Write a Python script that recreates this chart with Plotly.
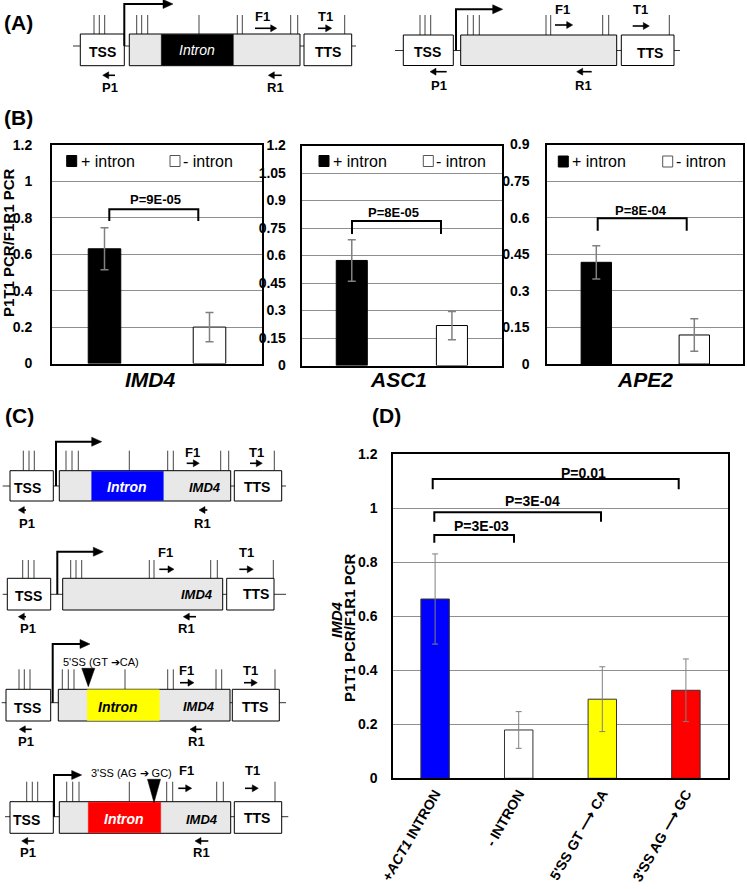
import plotly.graph_objects as go

W, H = 747, 889
FONT = "Liberation Sans, Arial, sans-serif"

# ---------------- data ----------------
b_categories = ["+ intron", "- intron"]
imd4_vals = [0.63, 0.20]
imd4_err = [0.115, 0.08]
asc1_vals = [0.573, 0.218]
asc1_err = [0.113, 0.077]
ape2_vals = [0.417, 0.119]
ape2_err = [0.068, 0.067]
b_colors = ["black", "white"]

imd4_ticks = [0, 0.2, 0.4, 0.6, 0.8, 1.0, 1.2]
imd4_ticktext = ["0", "0.2", "0.4", "0.6", "0.8", "1", "1.2"]
asc1_ticks = [0, 0.15, 0.3, 0.45, 0.6, 0.75, 0.9, 1.05, 1.2]
asc1_ticktext = ["0", "0.15", "0.3", "0.45", "0.6", "0.75", "0.9", "1.05", "1.2"]
ape2_ticks = [0, 0.15, 0.3, 0.45, 0.6, 0.75, 0.9]
ape2_ticktext = ["0", "0.15", "0.3", "0.45", "0.6", "0.75", "0.9"]

d_categories = ["+ACT1 INTRON", "- INTRON", "5'SS GT-CA", "3'SS AG-GC"]
d_ticktext = ["+<i>ACT1</i> INTRON", "- INTRON", "5'SS GT \u27f6 CA", "3'SS AG \u27f6 GC"]
d_vals = [0.664, 0.179, 0.293, 0.326]
d_err = [0.167, 0.068, 0.12, 0.116]
d_colors = ["#0000ff", "#ffffff", "#ffff00", "#ff0000"]
d_ticks = [0, 0.2, 0.4, 0.6, 0.8, 1.0, 1.2]
d_tickstext = ["0", "0.2", "0.4", "0.6", "0.8", "1", "1.2"]

# ---------------- helpers ----------------
shapes = []
annos = []


def px(x):
    return x / W


def py(y):
    return 1 - y / H


def line(x0, y0, x1, y1, color="black", width=1):
    shapes.append(dict(type="line", xref="paper", yref="paper",
                       x0=px(x0), y0=py(y0), x1=px(x1), y1=py(y1),
                       line=dict(color=color, width=width)))


def rect(x0, y0, x1, y1, fill, lc="black", lw=1):
    shapes.append(dict(type="rect", xref="paper", yref="paper",
                       x0=px(x0), y0=py(y0), x1=px(x1), y1=py(y1),
                       fillcolor=fill, line=dict(color=lc, width=lw)))


def poly(pts, fill):
    d = "M " + " L ".join(f"{px(a):.5f},{py(b):.5f}" for a, b in pts) + " Z"
    shapes.append(dict(type="path", xref="paper", yref="paper", path=d,
                       fillcolor=fill, line=dict(color=fill, width=0.5)))


def text(x, y, s, size, color="black", bold=False, italic=False, angle=0,
         xanchor="center"):
    if italic:
        s = f"<i>{s}</i>"
    if bold:
        s = f"<b>{s}</b>"
    annos.append(dict(xref="paper", yref="paper", x=px(x), y=py(y), text=s,
                      showarrow=False, xanchor=xanchor, yanchor="middle",
                      textangle=angle,
                      font=dict(family=FONT, size=size, color=color)))


def arrow(x0, x1, y, width=1.6, head=6, hh=3.5):
    sgn = 1 if x1 > x0 else -1
    line(x0, y, x1 - sgn * head * 0.6, y, width=width)
    poly([(x1, y), (x1 - sgn * head, y - hh), (x1 - sgn * head, y + hh)], "black")


def promoter(x, yb, yt, xe):
    shapes.append(dict(type="path", xref="paper", yref="paper",
                       path=f"M {px(x)},{py(yb)} L {px(x)},{py(yt)} L {px(xe - 6)},{py(yt)}",
                       line=dict(color="black", width=2)))
    poly([(xe, yt), (xe - 10, yt - 4.5), (xe - 10, yt + 4.5)], "black")


def diagram(d):
    by = d["base_y"]
    line(d["base_x"][0], by, d["base_x"][1], by, color="#333", width=1)
    y0, y1 = d["box_y"]
    for xx in d["ticks"]:
        line(xx, d["tick_top"], xx, y0, color="#444", width=1)
    rect(d["tss"][0], y0, d["tss"][1], y1, "white")
    rect(d["gene"][0], y0, d["gene"][1], y1, "#e8e8e8")
    if "intron" in d:
        ix0, ix1, col = d["intron"]
        rect(ix0, y0 + 0.5, ix1, y1 - 0.5, col, lc=col if col != "black" else "black", lw=0.5)
    rect(d["tts"][0], y0, d["tts"][1], y1, "white")
    promoter(*d["prom"])
    for key in ("F1", "T1", "P1", "R1"):
        lx, ly, ax0, ax1, ay = d[key]
        text(lx, ly, key, 13, bold=True)
        arrow(ax0, ax1, ay)
    for s, (tx, ty), kw in d["texts"]:
        text(tx, ty, s, **kw)
    if "tri" in d:
        cx, ty, bty, hw = d["tri"]
        poly([(cx - hw, ty), (cx + hw, ty), (cx, bty)], "black")


TSSK = dict(size=14, bold=True)
IMDK = dict(size=13, bold=True, italic=True)

diagrams = [
    dict(base_y=46, base_x=(73, 356), box_y=(34, 65.7), tick_top=15,
         tss=(80.3, 124.3), gene=(129.3, 300), intron=(161.3, 233.3, "black"), tts=(304, 351.7),
         ticks=[94, 99.3, 104.7, 136.7, 141.7, 147.7, 199, 237.3, 242.3, 290.7, 297.7, 344.7],
         prom=(124.3, 46, 4, 173),
         F1=(262.3, 16, 255, 276.7, 28.3), T1=(325, 16, 318, 331.7, 28.3),
         P1=(110, 87.7, 115, 102.7, 75.3), R1=(275, 87.7, 281.7, 268.3, 75.3),
         texts=[("TSS", (102.3, 51.5), TSSK), ("TTS", (327.5, 52), TSSK),
                ("Intron", (196.7, 49.5), dict(size=14, italic=True, color="white"))]),
    dict(base_y=50.5, base_x=(395, 680), box_y=(35, 65.5), tick_top=15,
         tss=(403.3, 453.3), gene=(460.7, 616.7), tts=(621.3, 674),
         ticks=[420, 425, 430.7, 467.7, 473.3, 479.3, 546, 550.7, 602.7, 608.7, 669.3],
         prom=(456, 50.5, 9.3, 502.7),
         F1=(562.7, 9, 555, 572.7, 25), T1=(640, 10, 632.7, 649.3, 26),
         P1=(439.3, 85, 446.7, 430, 71.7), R1=(583.3, 85, 591.7, 576.7, 71.7),
         texts=[("TSS", (427.7, 51.7), TSSK), ("TTS", (650, 53), TSSK)]),
    dict(base_y=486, base_x=(2.7, 286), box_y=(470.7, 501), tick_top=450.7,
         tss=(10, 53.3), gene=(59.3, 230.7), intron=(91.7, 163.3, "#0000ff"), tts=(234.3, 281.7),
         ticks=[23.3, 29, 34.3, 66, 72, 78.3, 129.3, 167.7, 173.3, 220.7, 228.7, 274.3],
         prom=(56, 486, 441.7, 101.7),
         F1=(192.7, 452.7, 186.7, 199.3, 463.3), T1=(256, 452.7, 250, 262.3, 463.3),
         P1=(26.7, 523.3, 26, 18.3, 510), R1=(202.7, 523.3, 207.3, 199, 510),
         texts=[("TSS", (27.3, 487.7), TSSK), ("TTS", (256.7, 487), TSSK),
                ("Intron", (126.7, 486.7), dict(size=14, bold=True, italic=True, color="white")),
                ("IMD4", (205, 487), IMDK)]),
    dict(base_y=594.3, base_x=(2.7, 286), box_y=(578.3, 610), tick_top=560,
         tss=(7.3, 50.7), gene=(62.7, 222.7), tts=(226.7, 274),
         ticks=[22.7, 28.3, 34, 70.7, 76, 81.7, 149.3, 154, 210.7, 217.3, 273.3],
         prom=(57.3, 594.3, 551.7, 103.3),
         F1=(165, 552.3, 159.3, 174, 569.3), T1=(246.7, 552.3, 239.3, 253.3, 569.3),
         P1=(28.3, 628.7, 26, 18.3, 616.7), R1=(186.7, 628.7, 196, 183.3, 616.7),
         texts=[("TSS", (28.3, 596), TSSK), ("TTS", (256, 593.5), TSSK),
                ("IMD4", (196.7, 594), IMDK)]),
    dict(base_y=702.7, base_x=(1.7, 286), box_y=(689.3, 721), tick_top=669.3,
         tss=(6, 50.7), gene=(58.3, 230), intron=(87.3, 159.3, "#ffff00"), tts=(232.3, 279.3),
         ticks=[19, 24.3, 30, 62.3, 68.3, 74, 125, 167.7, 173.3, 216, 221.7, 275],
         prom=(52.7, 702.7, 644, 90),
         F1=(186.7, 670.7, 180, 194, 682.7), T1=(250.7, 670.7, 244, 257.3, 682.7),
         P1=(26, 741.7, 31.7, 19.3, 729.3), R1=(196, 741.7, 201.7, 190, 729.3),
         tri=(88.3, 668.3, 686.7, 6.5),
         texts=[("TSS", (27.3, 708.3), TSSK), ("TTS", (255, 706.7), TSSK),
                ("Intron", (118.3, 706.7), dict(size=14, bold=True, italic=True)),
                ("IMD4", (199, 706.7), IMDK),
                ("5'SS (GT \u2794CA)", (100.7, 661.7), dict(size=11))]),
    dict(base_y=816.7, base_x=(5, 288.3), box_y=(801.7, 833.3), tick_top=781.7,
         tss=(10, 53.3), gene=(59.3, 230.7), intron=(88.3, 160.7, "#ff0000"), tts=(234.3, 281.7),
         ticks=[26.7, 32.3, 37.7, 66.7, 72.7, 79, 129.3, 166.7, 172.7, 216.7, 223.3, 275],
         prom=(54, 816.7, 775, 81.7),
         F1=(186.7, 770, 178.3, 191.7, 788.3), T1=(252.3, 770, 245, 258.3, 788.3),
         P1=(28.3, 852.7, 34.3, 21.7, 841), R1=(201, 852.7, 208.3, 195, 841),
         tri=(154, 779.3, 802.7, 6.5),
         texts=[("TSS", (26.7, 820), TSSK), ("TTS", (256.7, 818), TSSK),
                ("Intron", (124, 819.3), dict(size=14, bold=True, italic=True, color="white")),
                ("IMD4", (201.7, 819.3), IMDK),
                ("3'SS (AG \u2794 GC)", (131, 773.3), dict(size=11))]),
]
for d in diagrams:
    diagram(d)

# panel labels
for s, (x, y) in [("(A)", (18, 22)), ("(B)", (18, 117)), ("(C)", (19, 416)), ("(D)", (386, 415))]:
    text(x, y, s, 21, bold=True)

# ---------------- bar charts ----------------
fig = go.Figure()

ERR = dict(type="data", color="#808080", thickness=1.5, width=4)


def add_b(vals, errs, xa, ya):
    fig.add_trace(go.Bar(x=b_categories, y=vals, width=0.31,
                         marker=dict(color=b_colors, line=dict(color="black", width=1)),
                         error_y=dict(array=errs, **ERR),
                         xaxis=xa, yaxis=ya, showlegend=False))


add_b(imd4_vals, imd4_err, "x", "y")
add_b(asc1_vals, asc1_err, "x2", "y2")
add_b(ape2_vals, ape2_err, "x3", "y3")
fig.add_trace(go.Bar(x=d_categories, y=d_vals, width=0.34,
                     marker=dict(color=d_colors, line=dict(color="#333", width=1)),
                     error_y=dict(array=d_err, type="data", color="#808080", thickness=1, width=3),
                     xaxis="x4", yaxis="y4", showlegend=False))

GRID = "#8f8f8f"


def xax(dom, n, labels=None, ticktext=None):
    a = dict(domain=[px(dom[0]), px(dom[1])], range=[-0.5, n - 0.5],
             showline=True, mirror=True, linecolor="black", linewidth=2,
             showgrid=False, zeroline=False, automargin=False, fixedrange=True,
             showticklabels=False, ticks="")
    if labels is not None:
        a.update(showticklabels=True, tickmode="array", tickvals=labels, ticktext=ticktext,
                 tickangle=-60, tickfont=dict(family=FONT, size=14, color="black", weight="bold"))
    return a


def yax(dom, rng, tv, tt, standoff):
    return dict(domain=[py(dom[1]), py(dom[0])], range=rng,
                showline=True, mirror=True, linecolor="black", linewidth=2,
                showgrid=True, gridcolor=GRID, gridwidth=1, zeroline=False,
                tickmode="array", tickvals=tv, ticktext=tt, ticks="",
                ticklabelstandoff=standoff,
                tickfont=dict(family=FONT, size=14, color="black", weight="bold"),
                automargin=False, fixedrange=True)


fig.update_layout(
    xaxis=dict(**xax((52, 262), 2), anchor="y"),
    yaxis=dict(**yax((145, 363.5), [0, 1.2], imd4_ticks, imd4_ticktext, 15), anchor="x"),
    xaxis2=dict(**xax((301.7, 502), 2), anchor="y2"),
    yaxis2=dict(**yax((145.5, 365.5), [0, 1.2], asc1_ticks, asc1_ticktext, 11), anchor="x2"),
    xaxis3=dict(**xax((547.3, 743.3), 2), anchor="y3"),
    yaxis3=dict(**yax((144.5, 364), [0, 0.9], ape2_ticks, ape2_ticktext, 13), anchor="x3"),
    xaxis4=dict(**xax((393.3, 727.7), 4, d_categories, d_ticktext), anchor="y4"),
    yaxis4=dict(**yax((454.3, 778.3), [0, 1.2], d_ticks, d_tickstext, 11), anchor="x4"),
)

# legends in panel B
legends = [((66.7, 161), (170, 161)), ((319, 161), (423.3, 161)), ((558.3, 161.5), (662.7, 161.5))]
for (bx, by), (wx, wy) in legends:
    rect(bx, by - 5.5, bx + 10, by + 5.5, "black")
    text(bx + 12, by, "+ intron", 16, xanchor="left")
    rect(wx, wy - 5.5, wx + 10, wy + 5.5, "white", lc="#555", lw=1)
    text(wx + 11, wy, "- intron", 16, xanchor="left")

# p-value brackets
brackets = [
    (109.3, 198.3, 209.3, 221, "P=9E-05", 155, 199.3, 13),
    (352, 441, 221, 234, "P=8E-05", 393, 212.7, 13),
    (597.7, 686.7, 218.3, 230.7, "P=8E-04", 641, 210, 13),
    (434.3, 514, 535, 542.7, "P=3E-03", 481.7, 526, 14),
    (434.3, 601, 512.3, 521.7, "P=3E-04", 532, 500.5, 14),
    (432.7, 678.7, 479, 489.3, "P=0.01", 583, 472.5, 14),
]
for x0, x1, yh, yl, s, tx, ty, fs in brackets:
    shapes.append(dict(type="path", xref="paper", yref="paper",
                       path=f"M {px(x0)},{py(yl)} L {px(x0)},{py(yh)} L {px(x1)},{py(yh)} L {px(x1)},{py(yl)}",
                       line=dict(color="black", width=2)))
    text(tx, ty, s, fs, bold=True)

# gene names under B charts
for s, x in [("IMD4", 150), ("ASC1", 398), ("APE2", 645)]:
    text(x, 379, s, 21, bold=True, italic=True)

# axis titles
text(8, 243, "P1T1 PCR/F1R1 PCR", 15, bold=True, angle=-90)
text(336, 620, "IMD4", 15, bold=True, italic=True, angle=-90)
text(349, 628, "P1T1 PCR/F1R1 PCR", 15, bold=True, angle=-90)

fig.update_layout(width=W, height=H, margin=dict(l=0, r=0, t=0, b=0, pad=0),
                  paper_bgcolor="white", plot_bgcolor="white",
                  shapes=shapes, annotations=annos, showlegend=False,
                  font=dict(family=FONT, color="black"))

fig.write_html("out.html", config={"displayModeBar": False, "staticPlot": True},
               post_script="document.body.style.margin='0';document.body.style.overflow='hidden';")
